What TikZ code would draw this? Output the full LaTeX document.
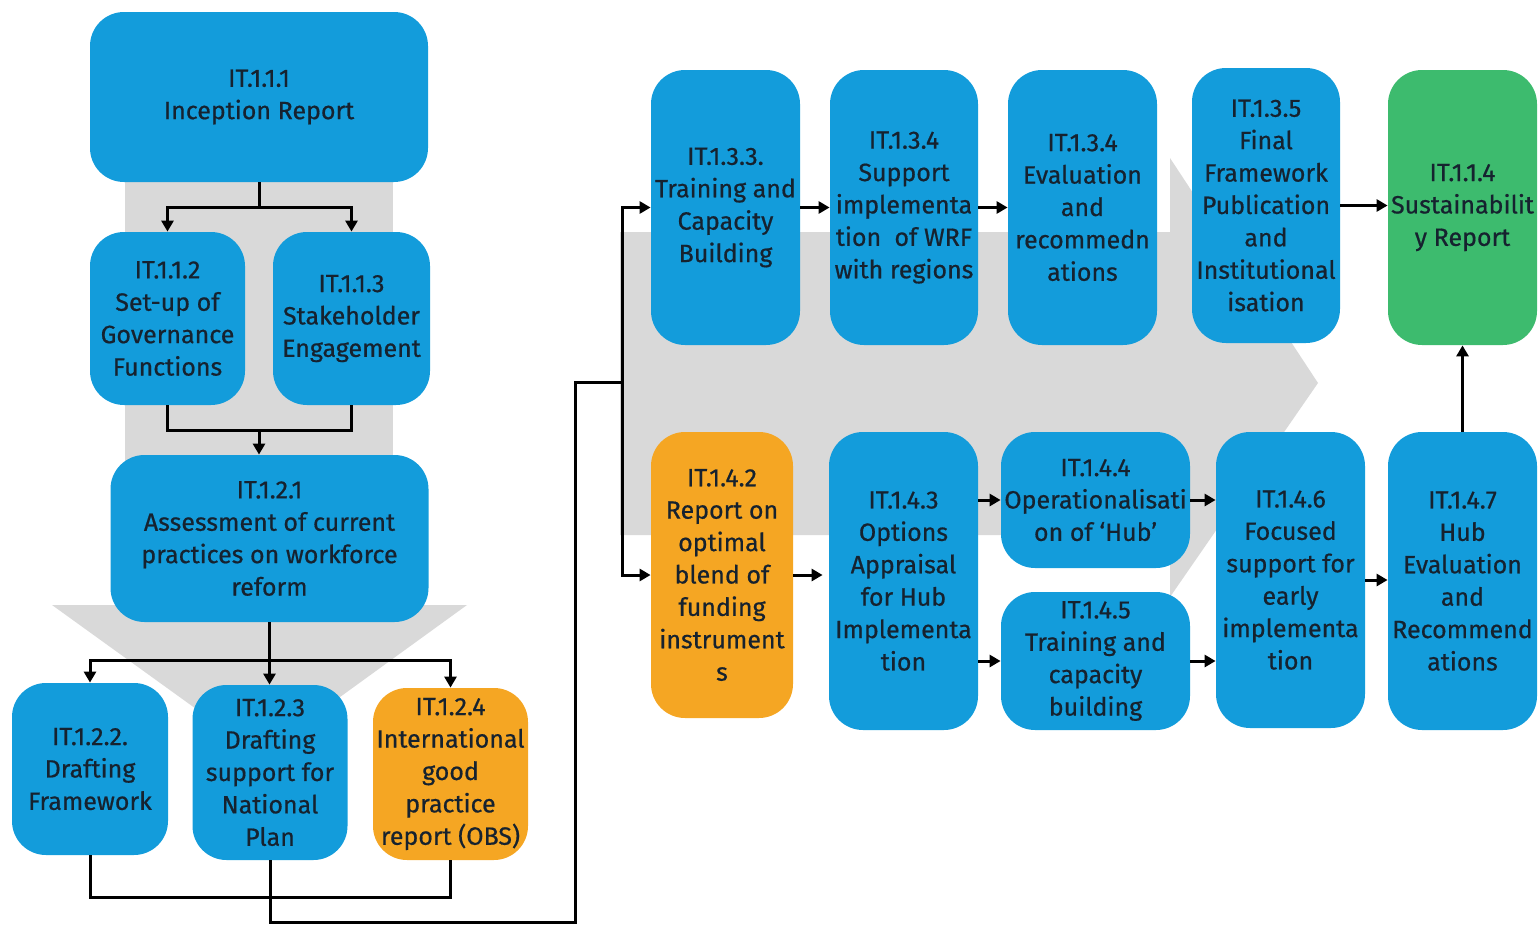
\documentclass[tikz,border=0pt]{standalone}
\usepackage{fontspec}
\setmainfont{Fira Sans}[FakeBold=0.6]
\usetikzlibrary{arrows.meta}
\definecolor{cblue}{HTML}{139CDB}
\definecolor{corange}{HTML}{F5A623}
\definecolor{cgreen}{HTML}{3DBB6E}
\definecolor{cgrey}{HTML}{D9D9D9}
\definecolor{ctext}{HTML}{16222F}
\begin{document}
\begin{tikzpicture}[x=0.5pt,y=-0.5pt,
  box/.style={rectangle, rounded corners=17pt, inner sep=0pt, align=center, text=ctext,
    font=\fontsize{12.5}{16.2}\selectfont},
  blbox/.style={box, fill=cblue},
  orbox/.style={box, fill=corange},
  grbox/.style={box, fill=cgreen},
  conn/.style={line width=1.5pt, draw=black},
  arr/.style={conn, -{Triangle[length=5.5pt,width=6pt]}}]
\useasboundingbox (0,0) rectangle (1538,926);
% grey background arrows
\fill[cgrey] (125,150) rectangle (393,606);
\fill[cgrey] (52,605) -- (467,605) -- (260,755) -- cycle;
\fill[cgrey] (620,232) -- (1170,232) -- (1170,158) -- (1318,383) -- (1170,597) -- (1170,535) -- (620,535) -- cycle;
% left column
\node[blbox, minimum width=169pt, minimum height=85pt] (n111) at (259,97) {IT.1.1.1\\Inception Report};
\node[blbox, minimum width=77.5pt, minimum height=86.5pt] (n112) at (167.5,318.5) {IT.1.1.2\\Set-up of\\Governance\\Functions};
\node[blbox, minimum width=78.5pt, minimum height=86.5pt] (n113) at (351.5,318.5) {IT.1.1.3\\Stakeholder\\Engagement};
\node[blbox, minimum width=159pt, minimum height=83.5pt] (n121) at (269.5,538.5) {IT.1.2.1\\Assessment of current\\practices on workforce\\reform};
\node[blbox, minimum width=78pt, minimum height=86pt] (n122) at (90,769) {IT.1.2.2.\\Drafting\\Framework};
\node[blbox, minimum width=77.5pt, minimum height=87.5pt] (n123) at (270,772.5) {IT.1.2.3\\Drafting\\support for\\National\\Plan};
\node[orbox, minimum width=77.5pt, minimum height=86pt] (n124) at (450.5,774) {IT.1.2.4\\International\\good\\practice\\report (OBS)};
% top row right
\node[blbox, minimum width=74.5pt, minimum height=137.5pt] (n133) at (725.5,207.5) {IT.1.3.3.\\Training and\\Capacity\\Building};
\node[blbox, minimum width=74pt, minimum height=137.5pt] (n134a) at (904,207.5) {IT.1.3.4\\Support\\implementa\\tion~~of WRF\\with regions};
\node[blbox, minimum width=74.5pt, minimum height=137.5pt] (n134b) at (1082.5,207.5) {IT.1.3.4\\Evaluation\\and\\recommedn\\ations};
\node[blbox, minimum width=74pt, minimum height=137.5pt] (n135) at (1266,205.5) {IT.1.3.5\\Final\\Framework\\Publication\\and\\Institutional\\isation};
\node[grbox, minimum width=74.5pt, minimum height=137.5pt] (n114) at (1462.5,207.5) {IT.1.1.4\\Sustainabilit\\y Report};
% bottom row right
\node[orbox, minimum width=71pt, minimum height=143pt] (n142) at (722,575) {IT.1.4.2\\Report on\\optimal\\blend of\\funding\\instrument\\s};
\node[blbox, minimum width=74.5pt, minimum height=149pt] (n143) at (903.5,581) {IT.1.4.3\\Options\\Appraisal\\for Hub\\Implementa\\tion};
\node[blbox, minimum width=94.5pt, minimum height=68pt] (n144) at (1095.5,500) {IT.1.4.4\\Operationalisati\\on of ‘Hub’};
\node[blbox, minimum width=94.5pt, minimum height=69pt] (n145) at (1095.5,661) {IT.1.4.5\\Training and\\capacity\\building};
\node[blbox, minimum width=74.5pt, minimum height=148pt] (n146) at (1290.5,580) {IT.1.4.6\\Focused\\support for\\early\\implementa\\tion};
\node[blbox, minimum width=74.5pt, minimum height=149pt] (n147) at (1462.5,581) {IT.1.4.7\\Hub\\Evaluation\\and\\Recommend\\ations};
% left connectors
\draw[conn] (n111.south) -- ++(0,25) coordinate (j1);
\draw[arr] (j1) -| (n112.north);
\draw[arr] (j1) -| (n113.north);
\draw[conn] (n112.south) -- ++(0,25) coordinate (j2) -| (n113.south);
\coordinate (j3) at (j1 |- j2);
\draw[arr] (j3) -- (j3 |- n121.north);
\draw[conn] (n121.south) -- ++(0,38) coordinate (j4);
\draw[arr] (j4) -- (j4 |- n123.north);
\draw[arr] (j4) -| (n122.north);
\draw[arr] (j4) -| (n124.north);
\draw[conn] (n122.south) -- ++(0,42) coordinate (j5) -| (n124.south);
\coordinate (k0) at (575,922);
\coordinate (k1) at (575,382);
\coordinate (k2) at (622,382);
\draw[conn] (n123.south) |- (k0) -- (k1) -- (k2);
\draw[arr] (k2) |- (n133.west);
\draw[arr] (k2) |- (n142.west);
% right connectors
\draw[arr] (n133.east) -- (n134a.west);
\draw[arr] (n134a.east) -- (n134b.west);
\draw[arr] (n135.east) -- (n135.east -| n114.west);
\draw[arr] (n142.east) -- ([xshift=-3pt]n142.east -| n143.west);
\draw[arr] (n143.east |- n144.west) -- (n144.west);
\draw[arr] (n143.east |- n145.west) -- (n145.west);
\draw[arr] (n144.east) -- (n144.east -| n146.west);
\draw[arr] (n145.east) -- (n145.east -| n146.west);
\draw[arr] (n146.east) -- (n146.east -| n147.west);
\draw[arr] (n147.north) -- (n114.south);
\end{tikzpicture}
\end{document}
